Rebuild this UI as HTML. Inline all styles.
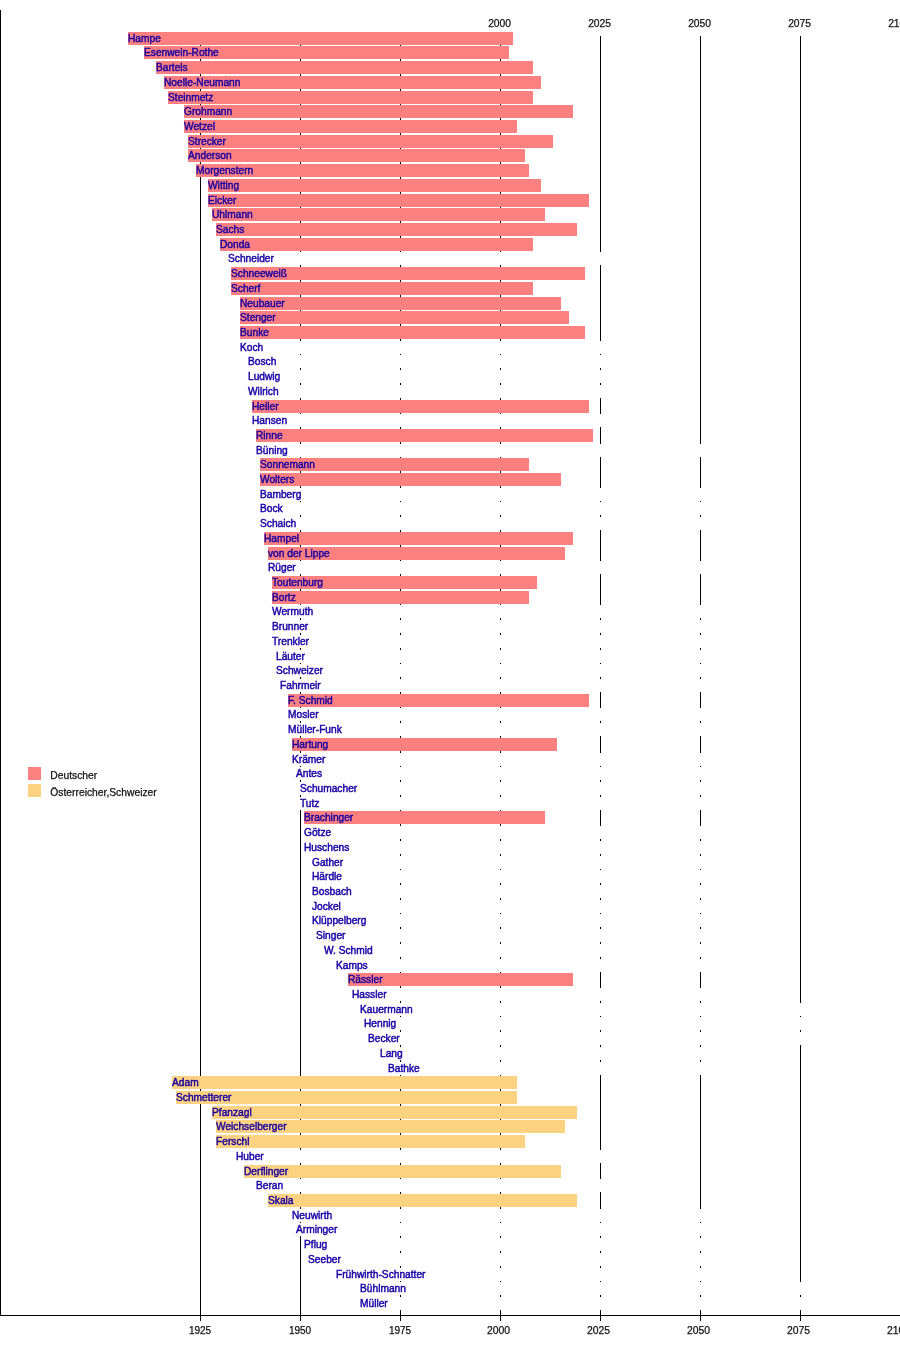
<!DOCTYPE html>
<html><head><meta charset="utf-8"><title>Zeitleiste</title>
<style>
html,body{margin:0;padding:0;background:#fff;}
#c{position:relative;width:900px;height:1365px;overflow:hidden;background:#fff;font-family:"Liberation Sans",sans-serif;font-size:10px;}
#c div{position:absolute;}
.g{width:1px;top:36px;height:1285px;background:#000;}
.b{height:13px;}
.r{background:#fd8080;}
.o{background:#fdd381;}
.w{background:#fff;}
.t{height:13px;line-height:13px;color:#1803a4;white-space:nowrap;-webkit-text-stroke:0.45px #1803a4;font-size:10.2px;}
#tx,#lb{left:0;top:0;width:900px;height:1365px;will-change:transform;}
.l{color:#111;white-space:nowrap;height:12px;line-height:12px;-webkit-text-stroke:0.25px #111;}
.x{width:40px;text-align:center;}
</style></head><body><div id="c">
<div class="g" style="left:200px"></div><div class="g" style="left:300px"></div><div class="g" style="left:400px"></div><div class="g" style="left:500px"></div><div class="g" style="left:600px"></div><div class="g" style="left:700px"></div><div class="g" style="left:800px"></div>
<div class="b r" style="left:128px;top:32px;width:385px"></div><div class="b r" style="left:144px;top:46px;width:365px"></div><div class="b r" style="left:156px;top:61px;width:377px"></div><div class="b r" style="left:164px;top:76px;width:377px"></div><div class="b r" style="left:168px;top:91px;width:365px"></div><div class="b r" style="left:184px;top:105px;width:389px"></div><div class="b r" style="left:184px;top:120px;width:333px"></div><div class="b r" style="left:188px;top:135px;width:365px"></div><div class="b r" style="left:188px;top:149px;width:337px"></div><div class="b r" style="left:196px;top:164px;width:333px"></div><div class="b r" style="left:208px;top:179px;width:333px"></div><div class="b r" style="left:208px;top:194px;width:381px"></div><div class="b r" style="left:212px;top:208px;width:333px"></div><div class="b r" style="left:216px;top:223px;width:361px"></div><div class="b r" style="left:220px;top:238px;width:313px"></div><div class="b w" style="left:228px;top:252px;width:422px"></div><div class="b r" style="left:231px;top:267px;width:354px"></div><div class="b r" style="left:231px;top:282px;width:302px"></div><div class="b r" style="left:240px;top:297px;width:321px"></div><div class="b r" style="left:240px;top:311px;width:329px"></div><div class="b r" style="left:240px;top:326px;width:345px"></div><div class="b w" style="left:240px;top:341px;width:410px"></div><div class="b w" style="left:248px;top:355px;width:402px"></div><div class="b w" style="left:248px;top:370px;width:402px"></div><div class="b w" style="left:248px;top:385px;width:402px"></div><div class="b r" style="left:252px;top:400px;width:337px"></div><div class="b w" style="left:252px;top:414px;width:398px"></div><div class="b r" style="left:256px;top:429px;width:337px"></div><div class="b w" style="left:256px;top:444px;width:494px"></div><div class="b r" style="left:260px;top:458px;width:269px"></div><div class="b r" style="left:260px;top:473px;width:301px"></div><div class="b w" style="left:260px;top:488px;width:490px"></div><div class="b w" style="left:260px;top:502px;width:490px"></div><div class="b w" style="left:260px;top:517px;width:490px"></div><div class="b r" style="left:264px;top:532px;width:309px"></div><div class="b r" style="left:268px;top:547px;width:297px"></div><div class="b w" style="left:268px;top:561px;width:482px"></div><div class="b r" style="left:272px;top:576px;width:265px"></div><div class="b r" style="left:272px;top:591px;width:257px"></div><div class="b w" style="left:272px;top:605px;width:478px"></div><div class="b w" style="left:272px;top:620px;width:478px"></div><div class="b w" style="left:272px;top:635px;width:478px"></div><div class="b w" style="left:276px;top:650px;width:474px"></div><div class="b w" style="left:276px;top:664px;width:474px"></div><div class="b w" style="left:280px;top:679px;width:470px"></div><div class="b r" style="left:288px;top:694px;width:301px"></div><div class="b w" style="left:288px;top:708px;width:462px"></div><div class="b w" style="left:288px;top:723px;width:462px"></div><div class="b r" style="left:292px;top:738px;width:265px"></div><div class="b w" style="left:292px;top:753px;width:458px"></div><div class="b w" style="left:296px;top:767px;width:454px"></div><div class="b w" style="left:300px;top:782px;width:450px"></div><div class="b w" style="left:300px;top:797px;width:450px"></div><div class="b r" style="left:304px;top:811px;width:241px"></div><div class="b w" style="left:304px;top:826px;width:446px"></div><div class="b w" style="left:304px;top:841px;width:446px"></div><div class="b w" style="left:312px;top:856px;width:438px"></div><div class="b w" style="left:312px;top:870px;width:438px"></div><div class="b w" style="left:312px;top:885px;width:438px"></div><div class="b w" style="left:312px;top:900px;width:438px"></div><div class="b w" style="left:312px;top:914px;width:438px"></div><div class="b w" style="left:316px;top:929px;width:434px"></div><div class="b w" style="left:324px;top:944px;width:426px"></div><div class="b w" style="left:336px;top:959px;width:414px"></div><div class="b r" style="left:348px;top:973px;width:225px"></div><div class="b w" style="left:352px;top:988px;width:398px"></div><div class="b w" style="left:360px;top:1003px;width:490px"></div><div class="b w" style="left:364px;top:1017px;width:486px"></div><div class="b w" style="left:368px;top:1032px;width:482px"></div><div class="b w" style="left:380px;top:1047px;width:370px"></div><div class="b w" style="left:388px;top:1062px;width:362px"></div><div class="b o" style="left:172px;top:1076px;width:345px"></div><div class="b o" style="left:176px;top:1091px;width:341px"></div><div class="b o" style="left:212px;top:1106px;width:365px"></div><div class="b o" style="left:216px;top:1120px;width:349px"></div><div class="b o" style="left:216px;top:1135px;width:309px"></div><div class="b w" style="left:236px;top:1150px;width:414px"></div><div class="b o" style="left:244px;top:1165px;width:317px"></div><div class="b w" style="left:256px;top:1179px;width:394px"></div><div class="b o" style="left:268px;top:1194px;width:309px"></div><div class="b w" style="left:292px;top:1209px;width:458px"></div><div class="b w" style="left:296px;top:1223px;width:454px"></div><div class="b w" style="left:304px;top:1238px;width:446px"></div><div class="b w" style="left:308px;top:1253px;width:442px"></div><div class="b w" style="left:336px;top:1268px;width:414px"></div><div class="b w" style="left:360px;top:1282px;width:490px"></div><div class="b w" style="left:360px;top:1297px;width:490px"></div>
<div style="left:0;top:10px;width:1px;height:1306px;background:#000"></div><div style="left:0;top:1315px;width:900px;height:1px;background:#000"></div>
<div id="tx"><div class="t" style="left:128px;top:32px">Hampe</div><div class="t" style="left:144px;top:46px">Esenwein-Rothe</div><div class="t" style="left:156px;top:61px">Bartels</div><div class="t" style="left:164px;top:76px">Noelle-Neumann</div><div class="t" style="left:168px;top:91px">Steinmetz</div><div class="t" style="left:184px;top:105px">Grohmann</div><div class="t" style="left:184px;top:120px">Wetzel</div><div class="t" style="left:188px;top:135px">Strecker</div><div class="t" style="left:188px;top:149px">Anderson</div><div class="t" style="left:196px;top:164px">Morgenstern</div><div class="t" style="left:208px;top:179px">Witting</div><div class="t" style="left:208px;top:194px">Eicker</div><div class="t" style="left:212px;top:208px">Uhlmann</div><div class="t" style="left:216px;top:223px">Sachs</div><div class="t" style="left:220px;top:238px">Donda</div><div class="t" style="left:228px;top:252px">Schneider</div><div class="t" style="left:231px;top:267px">Schneeweiß</div><div class="t" style="left:231px;top:282px">Scherf</div><div class="t" style="left:240px;top:297px">Neubauer</div><div class="t" style="left:240px;top:311px">Stenger</div><div class="t" style="left:240px;top:326px">Bunke</div><div class="t" style="left:240px;top:341px">Koch</div><div class="t" style="left:248px;top:355px">Bosch</div><div class="t" style="left:248px;top:370px">Ludwig</div><div class="t" style="left:248px;top:385px">Wilrich</div><div class="t" style="left:252px;top:400px">Heiler</div><div class="t" style="left:252px;top:414px">Hansen</div><div class="t" style="left:256px;top:429px">Rinne</div><div class="t" style="left:256px;top:444px">Büning</div><div class="t" style="left:260px;top:458px">Sonnemann</div><div class="t" style="left:260px;top:473px">Wolters</div><div class="t" style="left:260px;top:488px">Bamberg</div><div class="t" style="left:260px;top:502px">Bock</div><div class="t" style="left:260px;top:517px">Schaich</div><div class="t" style="left:264px;top:532px">Hampel</div><div class="t" style="left:268px;top:547px">von der Lippe</div><div class="t" style="left:268px;top:561px">Rüger</div><div class="t" style="left:272px;top:576px">Toutenburg</div><div class="t" style="left:272px;top:591px">Bortz</div><div class="t" style="left:272px;top:605px">Wermuth</div><div class="t" style="left:272px;top:620px">Brunner</div><div class="t" style="left:272px;top:635px">Trenkler</div><div class="t" style="left:276px;top:650px">Läuter</div><div class="t" style="left:276px;top:664px">Schweizer</div><div class="t" style="left:280px;top:679px">Fahrmeir</div><div class="t" style="left:288px;top:694px">F. Schmid</div><div class="t" style="left:288px;top:708px">Mosler</div><div class="t" style="left:288px;top:723px">Müller-Funk</div><div class="t" style="left:292px;top:738px">Hartung</div><div class="t" style="left:292px;top:753px">Krämer</div><div class="t" style="left:296px;top:767px">Antes</div><div class="t" style="left:300px;top:782px">Schumacher</div><div class="t" style="left:300px;top:797px">Tutz</div><div class="t" style="left:304px;top:811px">Brachinger</div><div class="t" style="left:304px;top:826px">Götze</div><div class="t" style="left:304px;top:841px">Huschens</div><div class="t" style="left:312px;top:856px">Gather</div><div class="t" style="left:312px;top:870px">Härdle</div><div class="t" style="left:312px;top:885px">Bosbach</div><div class="t" style="left:312px;top:900px">Jockel</div><div class="t" style="left:312px;top:914px">Klüppelberg</div><div class="t" style="left:316px;top:929px">Singer</div><div class="t" style="left:324px;top:944px">W. Schmid</div><div class="t" style="left:336px;top:959px">Kamps</div><div class="t" style="left:348px;top:973px">Rässler</div><div class="t" style="left:352px;top:988px">Hassler</div><div class="t" style="left:360px;top:1003px">Kauermann</div><div class="t" style="left:364px;top:1017px">Hennig</div><div class="t" style="left:368px;top:1032px">Becker</div><div class="t" style="left:380px;top:1047px">Lang</div><div class="t" style="left:388px;top:1062px">Bathke</div><div class="t" style="left:172px;top:1076px">Adam</div><div class="t" style="left:176px;top:1091px">Schmetterer</div><div class="t" style="left:212px;top:1106px">Pfanzagl</div><div class="t" style="left:216px;top:1120px">Weichselberger</div><div class="t" style="left:216px;top:1135px">Ferschl</div><div class="t" style="left:236px;top:1150px">Huber</div><div class="t" style="left:244px;top:1165px">Derflinger</div><div class="t" style="left:256px;top:1179px">Beran</div><div class="t" style="left:268px;top:1194px">Skala</div><div class="t" style="left:292px;top:1209px">Neuwirth</div><div class="t" style="left:296px;top:1223px">Arminger</div><div class="t" style="left:304px;top:1238px">Pflug</div><div class="t" style="left:308px;top:1253px">Seeber</div><div class="t" style="left:336px;top:1268px">Frühwirth-Schnatter</div><div class="t" style="left:360px;top:1282px">Bühlmann</div><div class="t" style="left:360px;top:1297px">Müller</div>
</div><div id="lb"><div class="l x" style="left:180px;top:1325px">1925</div><div class="l x" style="left:280px;top:1325px">1950</div><div class="l x" style="left:380px;top:1325px">1975</div><div class="l x" style="left:478.6px;top:1325px;font-size:10.4px">2000</div><div class="l x" style="left:578.6px;top:1325px;font-size:10.4px">2025</div><div class="l x" style="left:678.6px;top:1325px;font-size:10.4px">2050</div><div class="l x" style="left:778.6px;top:1325px;font-size:10.4px">2075</div><div class="l x" style="left:878.6px;top:1325px;font-size:10.4px">2100</div><div class="l x" style="left:479.6px;top:18px;font-size:10.3px">2000</div><div class="l x" style="left:579.6px;top:18px;font-size:10.3px">2025</div><div class="l x" style="left:679.6px;top:18px;font-size:10.3px">2050</div><div class="l x" style="left:779.6px;top:18px;font-size:10.3px">2075</div><div class="l x" style="left:879.6px;top:18px;font-size:10.3px">2100</div>
<div class="r" style="left:28px;top:767px;width:13px;height:13px"></div><div class="o" style="left:28px;top:784px;width:13px;height:13px"></div><div class="l" style="left:50.3px;top:770px;font-size:10.3px">Deutscher</div><div class="l" style="left:50.3px;top:787px;font-size:10.3px">Österreicher,Schweizer</div></div>
</div></body></html>
